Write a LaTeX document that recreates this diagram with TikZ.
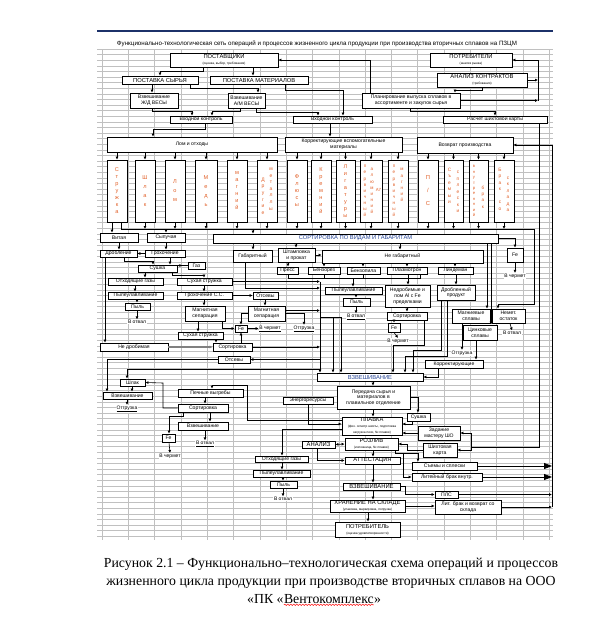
\documentclass[tikz,border=0pt]{standalone}
\usepackage{fontspec}
\usepackage{graphicx}
\setmainfont{Liberation Serif}
\newfontfamily\arf{Liberation Sans}
\usetikzlibrary{arrows.meta,decorations.pathmorphing}
\definecolor{orng}{RGB}{226,96,40}
\definecolor{gridc}{RGB}{192,192,192}
\definecolor{tblue}{RGB}{40,70,150}
\newcommand\hdf{\arf\fontsize{5.8}{6.3}\selectfont}
\newcommand\sbt[1]{{\fontsize{3.2}{3.6}\selectfont #1}}
\newcommand\Bx[7][]{\node[bx,minimum width={(#5-#3)*1pt},minimum height={(#6-#4)*1pt},#1] (#2) at ({(#3+#5)/2},{(#4+#6)/2}) {#7};}
\newcommand\VL[4][]{\node[vlet,#1] at (#2,#3) {#4};}
\tikzset{
 bx/.style={draw=black,line width=0.9pt,fill=white,inner sep=0.3pt,align=center,font=\arf\fontsize{5.1}{5.7}\selectfont},
 ln/.style={line width=0.6pt},
 arw/.style={ln,-{Latex[length=3pt,width=3pt]}},
 big/.style={line width=0.8pt,-{Triangle[length=8pt,width=6pt]}},
 vlet/.style={font=\arf\fontsize{5.6}{7}\selectfont,text=orng,align=center,inner sep=0},
 lbl/.style={font=\arf\fontsize{5}{5.5}\selectfont,inner sep=0.6pt,fill=white},
 gridln/.style={draw=gridc,line width=0.35pt},
 captxt/.style={font=\fontsize{13.8}{16}\selectfont,inner sep=0}
}
\begin{document}
\begin{tikzpicture}[x=1pt,y=-1pt]
\useasboundingbox (0,0) rectangle (589,630);
\fill[white] (0,0) rectangle (589,630);
% grid
\foreach \i in {0,...,87} \draw[gridln] (97,{49+\i*5.6}) -- (553,{49+\i*5.6});
\foreach \k in {0,...,17} \draw[gridln] ({102+\k*26.3},49) -- ({102+\k*26.3},540);
\draw[tblue!70!black,line width=1.3pt] (97,31) -- (553,31);
\node[font=\arf\fontsize{5.6}{6}\selectfont,inner sep=0] (ttl) at (317,44) {\resizebox{400pt}{!}{Функционально-технологическая сеть операций и процессов жизненного цикла продукции при производства вторичных сплавов на ПЗЦМ}};

% top boxes
\Bx[font=\hdf]{post}{170}{53}{278}{67}{ПОСТАВЩИКИ\\\sbt{(оценка, выбор, требования)}}
\Bx[font=\hdf]{potr}{430}{53}{512}{67}{ПОТРЕБИТЕЛИ\\\sbt{(анализ рынка)}}
\Bx[font=\hdf]{psyr}{122}{76}{198}{84}{ПОСТАВКА СЫРЬЯ}
\Bx[font=\hdf]{pmat}{210}{76}{308}{84}{ПОСТАВКА МАТЕРИАЛОВ}
\Bx[font=\hdf]{anal}{437}{73}{527}{87}{АНАЛИЗ КОНТРАКТОВ\\\sbt{(требования)}}
\Bx{vzjd}{130}{93}{178}{108}{Взвешивание\\Ж/Д ВЕСЫ}
\Bx{vzam}{228}{93}{265}{108}{Взвешивание\\А/М ВЕСЫ}
\Bx{plan}{362}{93}{460}{108}{Планирование выпуска сплавов в\\ассортименте и закупок сырья}
\Bx{vk1}{170}{116}{232}{123}{Входной контроль}
\Bx{vk2}{293}{116}{372}{123}{Входной контроль}
\Bx{rsh}{443}{116}{547}{123}{Расчет шихтовой карты}
\Bx{lom}{107}{137}{277}{152}{Лом и отходы}
\Bx{korr}{285}{137}{402}{152}{Корректирующие вспомогательные\\материалы}
\Bx{vozv}{417}{137}{513}{153}{Возврат производства}

% vertical boxes
\Bx{str}{107}{160}{127}{222}{}
\Bx{shl}{135}{160}{155}{222}{}
\Bx{lm}{165}{160}{185}{222}{}
\Bx{med}{195}{160}{217}{222}{}
\Bx{mgn}{227}{160}{247}{222}{}
\Bx{dr}{257}{160}{277}{222}{}
\Bx{fl}{287}{160}{307}{222}{}
\Bx{kr}{311}{160}{331}{222}{}
\Bx{lg}{336}{160}{355}{222}{}
\Bx{al}{360}{160}{382}{222}{}
\Bx{pm}{388}{160}{408}{222}{}
\Bx{ps}{418}{160}{438}{222}{}
\Bx{sm}{444}{160}{463}{222}{}
\Bx{vb}{469}{160}{488}{222}{}
\Bx{bs}{494}{160}{514}{222}{}
\VL{117}{191}{С\\т\\р\\у\\ж\\к\\а}
\VL[font=\arf\fontsize{5.6}{9}\selectfont]{145}{191}{Ш\\л\\а\\к}
\VL[font=\arf\fontsize{5.6}{9}\selectfont]{175}{191}{Л\\о\\м}
\VL[font=\arf\fontsize{5.6}{9}\selectfont]{206}{191}{М\\е\\д\\ь}
\VL{237}{191}{м\\а\\г\\н\\и\\й}
\VL[font=\arf\fontsize{5}{6.6}\selectfont]{263}{196}{Д\\р\\у\\г\\и\\е}
\VL[font=\arf\fontsize{5}{6.6}\selectfont]{271}{189}{м\\е\\т\\а\\л\\л\\ы}
\VL{297}{191}{Ф\\л\\ю\\с\\ы}
\VL{321}{191}{К\\р\\е\\м\\н\\и\\й}
\VL{345.5}{191}{Л\\и\\г\\а\\т\\у\\р\\ы}
\VL[font=\arf\fontsize{4.6}{6.1}\selectfont]{365}{191}{п\\е\\р\\в\\и\\ч\\н\\ы\\й}
\VL[font=\arf\fontsize{4.6}{6.1}\selectfont]{372}{191}{а\\л\\ю\\м\\и\\н\\и\\й}
\VL[font=\arf\fontsize{4.4}{5}\selectfont]{378.5}{190}{А7}
\VL[font=\arf\fontsize{4.6}{6.1}\selectfont]{394}{191}{п\\е\\р\\в\\и\\ч\\н\\ы\\й}
\VL[font=\arf\fontsize{4.6}{6.1}\selectfont]{402}{185}{м\\а\\г\\н\\и\\й}
\VL[font=\arf\fontsize{5.8}{13}\selectfont]{428}{191}{П\\/\\С}
\VL[font=\arf\fontsize{4.8}{6.5}\selectfont]{449.5}{186}{С\\ъ\\е\\м\\ы\\и}
\VL[font=\arf\fontsize{4.8}{6.5}\selectfont]{458}{192}{с\\п\\л\\е\\с\\к\\и}
\VL[font=\arf\fontsize{4.2}{5.4}\selectfont]{474}{191}{в\\н\\у\\т\\р\\е\\н\\н\\и\\й}
\VL[font=\arf\fontsize{4.6}{6.3}\selectfont]{483}{197}{б\\р\\а\\к}
\VL[font=\arf\fontsize{4.8}{6.5}\selectfont]{500}{189}{Б\\р\\а\\к\\~\\с\\о}
\VL[font=\arf\fontsize{4.8}{6.5}\selectfont]{508}{194}{с\\к\\л\\а\\д\\а}

% left lower
\Bx{vit}{100}{233}{138}{242}{Витая}
\Bx{syp}{147}{233}{185}{242}{Сыпучая}
\Bx{drob}{100}{250}{137}{257}{Дробление}
\Bx{groh}{145}{250}{185}{257}{Грохочение}
\Bx{sush}{138}{265}{177}{272}{Сушка}
\Bx{gaz}{188}{262}{205}{269}{Газ}
\Bx{otg1}{108}{278}{163}{285}{Отходящие газы}
\Bx{suhs}{177}{278}{232}{285}{Сухая стружка}
\Bx{pyl1}{108}{292}{163}{299}{Пылеулавливание}
\Bx{pyl1b}{125}{303}{150}{310}{Пыль}
\Bx{grss}{177}{292}{232}{299}{Грохочение С.С.}
\Bx{mag1}{185}{306}{225}{321}{Магнитная\\сепарация}
\Bx{ots1}{253}{292}{278}{299}{Отсевы}
\Bx{mag2}{248}{306}{285}{321}{Магнитная\\сепарация}
\Bx{fe1}{235}{325}{247}{332}{Fe}
\Bx{suhs2}{178}{332}{223}{339}{Сухая стружка}
\Bx{sort1}{213}{343}{252}{351}{Сортировка}
\Bx{nedr}{100}{343}{168}{351}{Не дробимая}
\Bx{ots2}{218}{356}{250}{363}{Отсевы}
\Bx{shl2}{120}{379}{145}{386}{Шлак}
\Bx{vzl}{103}{392}{152}{399}{Взвешивание}
\Bx{pech}{178}{389}{243}{397}{Печные выгребы}
\Bx{sort2}{178}{404}{228}{412}{Сортировка}
\Bx{vz3}{178}{422}{228}{430}{Взвешивание}
\Bx{fe3}{162}{434}{175}{442}{Fe}
\node[lbl] (vo1) at (137,322) {В отвал};
\node[lbl] (vch1) at (270,329) {\underline{В чермет}};
\node[lbl] (otgr1) at (304,329) {\underline{Отгрузка}};
\node[lbl] (otgr2) at (127,409) {\underline{Отгрузка}};
\node[lbl] (vo3) at (205,444) {\underline{В отвал}};
\node[lbl] (vch3) at (170,456) {В чермет};

% middle
\Bx[text=tblue,font=\hdf]{sortg}{213}{234}{498}{243}{СОРТИРОВКА ПО ВИДАМ И ГАБАРИТАМ}
\Bx{gab}{233}{250}{272}{262}{Габаритный}
\Bx{stp}{278}{248}{315}{262}{Штамповка\\и прокат}
\Bx{ngab}{322}{250}{483}{263}{Не габаритный}
\Bx{press}{277}{267}{298}{274}{Пресс}
\Bx{benr}{308}{267}{340}{274}{Бензорез}
\Bx{benp}{347}{267}{380}{274}{Бензопила}
\Bx{plaz}{387}{267}{427}{274}{Плазмотрон}
\Bx{lind}{438}{267}{473}{274}{Линдеман}
\Bx{fe2}{507}{248}{523}{262}{Fe}
\Bx{pyl2}{325}{287}{382}{294}{Пылеулавливание}
\Bx{pyl2b}{343}{298}{370}{306}{Пыль}
\Bx{nedr2}{385}{285}{430}{307}{Недробимые и\\пом Al с Fe\\пределками}
\Bx{drp}{437}{285}{475}{300}{Дробленный\\продукт}
\Bx{sort3}{387}{312}{427}{320}{Сортировка}
\Bx{fe4}{388}{323}{400}{332}{Fe}
\Bx{mgs}{452}{309}{490}{323}{Магниевые\\сплавы}
\Bx{nem}{492}{309}{525}{323}{Немет.\\остаток}
\Bx{zns}{463}{325}{497}{340}{Цинковые\\сплавы}
\Bx{korr2}{425}{360}{483}{368}{Корректирующие}
\node[lbl] (vch2) at (515,276) {В чермет};
\node[lbl] (vo2) at (356,317) {\underline{В отвал}};
\node[lbl] (vch4) at (398,341) {В чермет};
\node[lbl] (vo5) at (512,333) {В отвал};
\node[lbl] (otgr3) at (462,353) {Отгрузка};

% lower middle
\Bx[text=tblue,font=\hdf]{vzm}{317}{373}{423}{381}{ВЗВЕШИВАНИЕ}
\Bx{pered}{337}{386}{410}{409}{Передача сырья и\\материалов в\\плавильное отделение}
\Bx{energ}{283}{397}{333}{404}{Энергоресурсы}
\Bx{sush2}{407}{413}{430}{421}{Сушка}
\Bx[font=\hdf]{plavka}{342}{417}{402}{435}{ПЛАВКА\\\sbt{(физ. осмотр шихты, подготовка}\\\sbt{загрузка печи, № плавки)}}
\Bx{zad}{418}{426}{460}{440}{Задание\\мастеру ШО}
\Bx{shk}{423}{443}{457}{457}{Шихтовая\\карта}
\Bx[font=\hdf]{analiz}{302}{441}{335}{448}{АНАЛИЗ}
\Bx[font=\hdf]{rozl}{345}{438}{398}{450}{РОЗЛИВ\\\sbt{(изложница, № плавки)}}
\Bx[font=\hdf]{att}{345}{457}{400}{464}{АТТЕСТАЦИЯ}
\Bx{otg2}{255}{456}{308}{462}{Отходящие газы}
\Bx{pyl3}{253}{470}{310}{477}{Пылеулавливание}
\Bx{pyl3b}{270}{481}{297}{488}{Пыль}
\node[lbl] (vo4) at (283,499) {В отвал};
\Bx[font=\hdf]{vzb}{343}{483}{400}{490}{ВЗВЕШИВАНИЕ}
\Bx[font=\hdf]{hran}{330}{500}{405}{512}{ХРАНЕНИЕ НА СКЛАДЕ\\\sbt{(упаковка, маркировка, погрузка)}}
\Bx[font=\hdf]{potrb}{335}{522}{400}{537}{ПОТРЕБИТЕЛЬ\\\sbt{(оценка удовлетворенности)}}
\Bx{sem}{412}{462}{477}{470}{Съемы и сплески}
\Bx{litb}{412}{473}{482}{481}{Литейный брак внутр.}
\Bx{pls}{435}{491}{458}{498}{ПЛС}
\Bx{litv}{435}{500}{501}{514}{Лит. брак и возврат со\\склада}

% ---------- connectors: top
\draw[arw] (203,0 |- post.south) |- (160,71) -- (160,0 |- psyr.north);
\draw[arw] (253,0 |- post.south) -- (253,0 |- pmat.north);
\draw[arw] (152,0 |- psyr.south) -- (152,0 |- vzjd.north);
\draw[arw] (190,0 |- psyr.south) |- (258,88.5) -- (258,0 |- vzam.north);
\draw[arw] (285,0 |- pmat.south) |- (343,90) -- (343,0 |- vk2.north);
\draw[arw] (152,0 |- vzjd.south) |- (192,111) -- (192,0 |- vk1.north);
\draw[arw] (240,0 |- vzam.south) |- (212,111) -- (212,0 |- vk1.north);
\draw[arw] (256,0 |- vzam.south) |- (318,112.5) -- (318,0 |- vk2.north);
\draw[arw] (370,0 |- plan.north) |- (post.east);
\draw[arw] (482,0 |- anal.south) |- (455,90) -- (455,0 |- plan.north);
\draw[arw] (anal.east) -- (538,0 |- anal.east);
\draw[arw] (plan.east) -- (538,0 |- plan.east);
\draw[arw] (538,0 |- plan.east) |- (potr.east);
\draw[arw] (410,0 |- plan.south) |- (495,111) -- (495,0 |- rsh.north);
\draw[arw] (205,0 |- vk1.south) |- (153,129) -- (153,0 |- lom.north);
\draw[arw] (330,0 |- vk2.south) -- (330,0 |- korr.north);
\foreach \x/\n in {117/str,145/shl,175/lm,206/med,237/mgn,267/dr} \draw[arw] (\x,0 |- lom.south) -- (\x,0 |- \n.north);
\foreach \x/\n in {297/fl,321/kr,345.5/lg,371/al,398/pm} \draw[arw] (\x,0 |- korr.south) -- (\x,0 |- \n.north);
\foreach \x/\n in {428/ps,453.5/sm,478.5/vb,504/bs} \draw[arw] (\x,0 |- vozv.south) -- (\x,0 |- \n.north);
% bus
\draw[arw] (121,0 |- str.south) |- (534,229) |- (498,304) -- (498,0 |- nem.north);
\foreach \x/\n in {145/shl,175/lm,206/med,237/mgn,267/dr,297/fl,321/kr,345.5/lg,371/al,398/pm,428/ps,453.5/sm,478.5/vb,504/bs} \draw[arw] (\x,0 |- \n.south) -- (\x,229);
\draw[arw] (112,0 |- str.south) -- (112,0 |- vit.north);
\draw[arw] (166,229) -- (166,0 |- syp.north);
\draw[arw] (253,229) -- (253,0 |- sortg.north);
% left
\draw[arw] (119,0 |- vit.south) -- (119,0 |- drob.north);
\draw[arw] (166,0 |- syp.south) -- (166,0 |- groh.north);
\draw[arw] (groh.west) -- (drob.east);
\draw[arw] (124,0 |- drob.south) |- (153,261) -- (153,0 |- sush.north);
\draw[arw] (170,0 |- groh.south) -- (170,0 |- sush.north);
\draw[arw] (gaz.west) -- (gaz.west -| sush.east);
\draw[arw] (145,0 |- sush.south) -- (145,0 |- otg1.north);
\draw[arw] (172,0 |- sush.south) |- (204,275) -- (204,0 |- suhs.north);
\draw[arw] (135,0 |- otg1.south) -- (135,0 |- pyl1.north);
\draw[arw] (137,0 |- pyl1.south) -- (137,0 |- pyl1b.north);
\draw[arw] (137,0 |- pyl1b.south) -- (vo1.north);
\draw[arw] (204,0 |- suhs.south) -- (204,0 |- grss.north);
\draw[arw] (grss.east) -- (ots1.west);
\draw[arw] (204,0 |- grss.south) -- (204,0 |- mag1.north);
\draw[arw] (265,0 |- ots1.south) -- (265,0 |- mag2.north);
\draw[arw] (198,0 |- mag1.south) -- (198,0 |- suhs2.north);
\draw[arw] (222,0 |- mag1.south) |- (fe1.west);
\draw[arw] (mag2.west) -| (241,0 |- fe1.north);
\draw[arw] (fe1.east) -- (fe1.east -| vch1.west);
\draw[arw] (mag2.east) -| (otgr1.north);
\draw[arw] (216,0 |- suhs2.south) -- (216,0 |- sort1.north);
\draw[arw] (241,0 |- sort1.north) -- (241,0 |- fe1.south);
\draw[arw,gray,line width=1.3pt] (nedr.east) -- (sort1.west);
\draw[arw] (105,0 |- drob.south) -- (105,0 |- nedr.north);
\draw[arw] (320,0 |- ots2.east) -- (ots2.east);
\draw[arw] (ots2.west) -| (107,0 |- vzl.north);
\draw[arw] (132,0 |- shl2.south) -- (132,0 |- vzl.north);
\draw[arw] (127,0 |- vzl.south) -- (otgr2.north);
\draw[arw] (sort2.west) -| (163,383) -- (shl2.east);
\draw[arw] (205,0 |- pech.south) -- (205,0 |- sort2.north);
\draw[arw] (210,0 |- sort2.south) -- (210,0 |- vz3.north);
\draw[arw] (205,0 |- vz3.south) -- (vo3.north);
\draw[arw] (183,0 |- sort2.south) |- (169,416) -- (169,0 |- fe3.north);
\draw[arw] (169,0 |- fe3.south) -- (vch3.north);
% trunk
\draw[arw] (suhs.east) -- (320,0 |- suhs.east);
\draw[arw] ([yshift=3pt]mag2.east) -- (320,310.5);
\draw[arw] (sort1.east) -- (320,0 |- sort1.east);
\draw[arw] (245,0 |- gab.south) |- (320,288);
\draw[arw] (320,281.5) -- (320,0 |- vzm.north);
\draw[arw] (320,317) -| (333,0 |- vzm.north);
\draw[arw] (320,317) -| (341,0 |- vzm.north);
\draw[arw] (320,369) -| (127,0 |- shl2.north);
% middle
\draw[arw] (296,0 |- sortg.south) -- (296,0 |- stp.north);
\draw[arw] (253,0 |- sortg.south) -- (253,0 |- gab.north);
\draw[arw] (400,0 |- sortg.south) -- (400,0 |- ngab.north);
\draw[arw] (sortg.east) -| (fe2.north);
\draw[arw] (515,0 |- fe2.south) -- (vch2.north);
\draw[arw] (stp.east) -- (stp.east -| ngab.west);
\draw[arw] (288,0 |- stp.south) -- (288,0 |- press.north);
\foreach \x/\n in {324/benr,363/benp,407/plaz,455/lind} \draw[arw] (\x,0 |- ngab.south) -- (\x,0 |- \n.north);
\draw[ln] (288,0 |- press.south) |- (420,278.5) -- (420,0 |- plaz.south);
\draw[ln] (324,0 |- benr.south) -- (324,278.5);
\draw[ln] (363,0 |- benp.south) -- (363,278.5);
\draw[arw] (353,278.5) -- (353,0 |- pyl2.north);
\draw[arw] (356,0 |- pyl2.south) -- (356,0 |- pyl2b.north);
\draw[arw] (356,0 |- pyl2b.south) -- (vo2.north);
\draw[arw] (408,0 |- plaz.south) -- (408,0 |- nedr2.north);
\draw[arw] (456,0 |- lind.south) -- (456,0 |- drp.north);
\draw[arw] (407,0 |- nedr2.south) -- (407,0 |- sort3.north);
\draw[arw] (394,0 |- sort3.south) -- (394,0 |- fe4.north);
\draw[arw] (394,0 |- fe4.south) -- (vch4.north);
\draw[arw] (487,0 |- sortg.south) -- (487,0 |- mgs.north);
\draw[arw] (491,0 |- sortg.south) -- (491,0 |- zns.north);
\draw[arw] (462,0 |- mgs.south) -- (otgr3.north);
\draw[arw] (476,0 |- zns.south) -- (476,0 |- korr2.north);
\draw[arw] (510,0 |- nem.south) -- (vo5.north);
\draw[arw] (438,0 |- korr2.south) |- (vzm.east);
\draw[arw] (441,0 |- drp.south) |- (413,350) -- (413,0 |- vzm.north);
\draw[arw] (447,0 |- drp.south) |- (405,356) -- (405,0 |- vzm.north);
\draw[arw] (424,0 |- sort3.south) |- (393,345) -- (393,0 |- vzm.north);
% lower
\draw[arw] (373,0 |- vzm.south) -- (373,0 |- pered.north);
\draw[arw] (373,0 |- pered.south) -- (373,0 |- plavka.north);
\draw[arw] ([yshift=6pt]plavka.west) -| (247,385) -| (212,0 |- pech.north);
\draw[arw] (308,0 |- energ.south) |- ([yshift=2pt]plavka.west);
\draw[arw] ([yshift=-3pt]plavka.west) -| (282,0 |- otg2.north);
\draw[arw] (282,0 |- otg2.south) -- (282,0 |- pyl3.north);
\draw[arw] (283,0 |- pyl3.south) -- (283,0 |- pyl3b.north);
\draw[arw] (283,0 |- pyl3b.south) -- (vo4.north);
\draw[arw] (pered.east) -| (418,0 |- sush2.north);
\draw[arw] (412,0 |- sush2.south) |- ([yshift=2pt]plavka.east);
\draw[arw] (zad.west) -- (zad.west -| plavka.east);
\draw[arw] (shk.west) -| (407,0 |- rozl.east) -- (rozl.east);
\draw[arw] (395,0 |- rozl.south) |- (418,453.5) -- (418,0 |- sem.north);
\draw[arw] (403,453.5) |- (litb.west);
\draw[ln,{Latex[length=3pt,width=3pt]}-{Latex[length=3pt,width=3pt]}] (analiz.east) -- (rozl.west);
\draw[arw] (317,0 |- analiz.south) |- (att.west);
\draw[arw] (373,0 |- rozl.south) -- (373,0 |- att.north);
\draw[arw] (373,0 |- att.south) -- (373,0 |- vzb.north);
\draw[arw] (373,0 |- vzb.south) -- (373,0 |- hran.north);
\draw[arw] (368,0 |- hran.south) -- (368,0 |- potrb.north);
\draw[arw] (vzb.east) -| (405,494.5) -- (pls.west);
\draw[arw] (hran.east) -- (hran.east -| litv.west);
\draw[arw] (pls.east) -- (552,0 |- pls.east);
\draw[arw] (litv.east) -- (552,0 |- litv.east);
\draw[arw] (552,0 |- litv.east) |- (vozv.east);
\draw[big] (sem.east) -- (552,0 |- sem.east);
\draw[big] (litb.east) -- (552,0 |- litb.east);
\draw[ln] (539,0 |- rsh.south) |- (471,447);
\draw[arw] (471,447) |- (zad.east);
\draw[arw] (471,447) |- (shk.east);

% caption
\node[captxt,anchor=base] (c1) at (331,567) {Рисунок 2.1 – Функционально–технологическая схема операций и процессов};
\node[captxt,anchor=base] (c2) at (331,585) {жизненного цикла продукции при производстве вторичных сплавов на ООО};
\node[captxt,anchor=base west] (c3a) at (247,603) {«ПК «};
\node[captxt,anchor=base west] (c3b) at (c3a.base east) {Вентокомплекс};
\node[captxt,anchor=base west] (c3c) at (c3b.base east) {»};
\draw[red,line width=0.5pt,decorate,decoration={snake,amplitude=0.7pt,segment length=3pt}] ([yshift=-1.5pt]c3b.south west) -- ([yshift=-1.5pt]c3b.south east);
\end{tikzpicture}
\end{document}
